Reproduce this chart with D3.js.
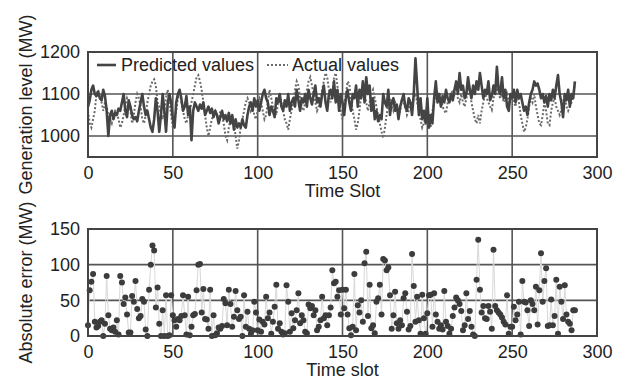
<!DOCTYPE html>
<html>
<head>
<meta charset="utf-8">
<script src="https://cdn.jsdelivr.net/npm/d3@7"></script>
<style>
  body { margin: 0; background: #fff; }
  text { font-family: "Liberation Sans", Arial, sans-serif; fill: #222; }
</style>
</head>
<body>
<script>
// time slots 0..287
var predicted = [
  1070, 1085, 1110, 1120, 1100, 1095, 1105, 1090, 1085, 1110,
  1095, 1060, 1000, 1050, 1060, 1040, 1055, 1050, 1065, 1060,
  1080, 1100, 1060, 1045, 1085, 1070, 1050, 1040, 1045, 1035,
  1060, 1080, 1100, 1070, 1050, 1060, 1040, 1020, 1010, 1040,
  1090, 1060, 1010, 1050, 1100, 1060, 1010, 1080, 1100, 1080,
  1040, 1020, 1080, 1100, 1110, 1090, 1060, 1070, 1095, 1050,
  1070, 990, 1060, 1080, 1070, 1060, 1075, 1065, 1080, 1050,
  1060, 1070, 1055, 1065, 1045, 1060, 1050, 1030, 1045, 1060,
  1040, 1050, 1035, 1055, 1030, 1050, 1015, 1040, 1020, 1030,
  1020, 1040, 1025, 1020, 1050, 1070, 1080, 1060, 1090, 1070,
  1085, 1060, 1080, 1100, 1110, 1090, 1080, 1050, 1070, 1060,
  1045, 1090, 1080, 1100, 1070, 1060, 1085, 1070, 1100, 1060,
  1080, 1090, 1070, 1110, 1085, 1060, 1090, 1080, 1100, 1070,
  1110, 1090, 1075, 1100, 1120, 1080, 1090, 1070, 1100, 1120,
  1080, 1060, 1100, 1110, 1090, 1130, 1080, 1110, 1060, 1100,
  1080, 1050, 1090, 1110, 1080, 1060, 1100, 1090, 1120, 1070,
  1110, 1090, 1130, 1080, 1140, 1100, 1120, 1060, 1090, 1040,
  1060, 1035, 1050, 1040, 1100, 1080, 1070, 1110, 1050, 1080,
  1090, 1060, 1075, 1040, 1070, 1085, 1100, 1070, 1060, 1090,
  1080, 1050, 1100, 1185, 1120, 1050, 1090, 1040, 1060, 1030,
  1090, 1020, 1050, 1030, 1090, 1130, 1080, 1100, 1070, 1095,
  1080, 1110, 1090, 1080, 1100, 1085, 1110, 1130, 1100, 1150,
  1110, 1120, 1090, 1100, 1140, 1110, 1090, 1120, 1100, 1130,
  1110, 1150, 1120, 1090, 1110, 1100, 1130, 1085, 1095, 1120,
  1100, 1165, 1110, 1100, 1140, 1090, 1110, 1070, 1060, 1100,
  1090, 1110, 1080, 1110, 1090, 1100, 1080, 1060, 1070, 1050,
  1080, 1100, 1110, 1130, 1120, 1125, 1110, 1090, 1100, 1080,
  1095, 1070, 1100, 1085, 1110, 1090, 1120, 1145, 1100, 1080,
  1045, 1100, 1085, 1110, 1070, 1100, 1090, 1130
];

var actual = [
  1060, 1030, 1020, 1040, 1060, 1100, 1110, 1090, 1080, 1060,
  1080, 1070, 1050, 1040, 1030, 1050, 1060, 1055, 1040, 1020,
  1030, 1050, 1070, 1090, 1080, 1060, 1030, 1050, 1080, 1100,
  1090, 1070, 1040, 1030, 1050, 1080, 1100, 1120, 1130, 1135,
  1120, 1080, 1070, 1050, 1040, 1060, 1090, 1110, 1080, 1050,
  1020, 1040, 1060, 1090, 1110, 1080, 1060, 1040, 1030, 1050,
  1060, 1080, 1100, 1120, 1140, 1145, 1130, 1110, 1080, 1050,
  1020, 1000, 1020, 1040, 1050, 1060, 1050, 1040, 1060, 1050,
  1030, 1000, 990, 1020, 1040, 1050, 1030, 1000, 970, 990,
  1020, 1040, 1060, 1080, 1090, 1080, 1060, 1070, 1050, 1040,
  1060, 1090, 1080, 1060, 1040, 1050, 1080, 1110, 1090, 1070,
  1060, 1050, 1080, 1100, 1080, 1060, 1040, 1030, 1015, 1040,
  1060, 1080, 1110, 1130, 1120, 1090, 1070, 1060, 1080, 1110,
  1130, 1140, 1120, 1100, 1080, 1060, 1070, 1090, 1110, 1130,
  1150, 1140, 1110, 1080, 1100, 1140, 1150, 1120, 1080, 1060,
  1040, 1070, 1100, 1130, 1125, 1090, 1060, 1040, 1015, 1030,
  1060, 1100, 1120, 1100, 1080, 1060, 1080, 1100, 1110, 1090,
  1070, 1050, 1030, 1010, 995, 1020, 1050, 1080, 1090, 1070,
  1060, 1080, 1070, 1050, 1060, 1090, 1080, 1070, 1050, 1060,
  1080, 1070, 1090, 1100, 1080, 1060, 1040, 1020, 1030, 1050,
  1070, 1040, 1022, 1060, 1080, 1090, 1100, 1080, 1090, 1070,
  1060, 1054, 1080, 1090, 1100, 1110, 1100, 1120, 1090, 1080,
  1100, 1080, 1070, 1090, 1100, 1120, 1080, 1060, 1040, 1030,
  1050, 1030, 1060, 1080, 1100, 1090, 1080, 1070, 1062, 1090,
  1100, 1110, 1100, 1090, 1100, 1080, 1090, 1100, 1080, 1090,
  1100, 1080, 1070, 1100, 1080, 1050, 1030, 1010, 1020, 1040,
  1070, 1090, 1080, 1100, 1070, 1050, 1030, 1026, 1050, 1080,
  1060, 1030, 1026, 1060, 1080, 1090, 1070, 1060, 1050, 1062,
  1080, 1100, 1070, 1060, 1070, 1080, 1100, 1130
];

var absError = [
  15, 64, 76, 87, 20, 12, 14, 20, 22, 0,
  17, 84, 29, 10, 8, 12, 6, 22, 2, 84,
  75, 45, 54, 30, 5, 5, 56, 48, 77, 38,
  25, 28, 52, 48, 9, 0, 65, 100, 127, 120,
  40, 68, 17, 0, 36, 0, 57, 0, 1, 57,
  29, 22, 13, 24, 22, 28, 57, 29, 2, 55,
  1, 13, 29, 31, 64, 100, 101, 33, 66, 24,
  23, 10, 65, 0, 29, 1, 4, 12, 10, 14,
  52, 46, 15, 65, 45, 13, 27, 63, 36, 24,
  27, 0, 57, 13, 34, 10, 3, 8, 48, 33,
  8, 23, 6, 20, 16, 55, 25, 33, 3, 20,
  41, 72, 10, 18, 6, 2, 4, 71, 48, 6,
  32, 11, 22, 36, 60, 18, 29, 22, 6, 4,
  44, 39, 42, 29, 36, 8, 13, 22, 55, 25,
  29, 15, 29, 40, 92, 74, 76, 55, 64, 30,
  65, 39, 65, 30, 11, 1, 13, 87, 8, 43,
  33, 50, 20, 102, 118, 28, 72, 11, 15, 4,
  48, 53, 72, 30, 108, 106, 92, 96, 57, 10,
  29, 62, 18, 10, 22, 15, 53, 60, 34, 9,
  14, 115, 70, 20, 55, 22, 3, 58, 25, 3,
  32, 57, 58, 13, 60, 30, 20, 10, 15, 9,
  63, 20, 14, 3, 10, 28, 40, 54, 50, 45,
  35, 8, 15, 60, 24, 35, 13, 2, 0, 79,
  135, 65, 33, 42, 25, 24, 42, 34, 10, 121,
  42, 36, 33, 30, 26, 20, 16, 57, 3, 13,
  13, 41, 22, 30, 48, 2, 77, 48, 47, 36,
  14, 50, 45, 36, 69, 16, 64, 116, 48, 77,
  95, 14, 15, 51, 15, 28, 79, 3, 69, 48,
  24, 71, 30, 20, 17, 8, 36, 36
];

var xTicks = [0, 50, 100, 150, 200, 250, 300];
var genTicks = [1000, 1100, 1200];
var errTicks = [0, 50, 100, 150];
var legendLabels = ["Predicted values", "Actual values"];

var W = 622, H = 381;
var left = 88, right = 597;

var svg = d3.select("body").append("svg")
    .attr("width", W)
    .attr("height", H);

var x = d3.scaleLinear().domain([0, 300]).range([left, right]);

function drawPanel(top, bottom, y, yTicks, yTitle, xTitle, titleY) {
    var g = svg.append("g");

    // grid
    g.selectAll("line.vgrid")
        .data(xTicks.slice(1, -1))
        .enter().append("line")
        .attr("x1", function(d) { return x(d); })
        .attr("x2", function(d) { return x(d); })
        .attr("y1", top).attr("y2", bottom)
        .attr("stroke", "#555").attr("stroke-width", 1.6);
    g.selectAll("line.hgrid")
        .data(yTicks.filter(function(d) { return y(d) > top + 2 && y(d) < bottom - 2; }))
        .enter().append("line")
        .attr("x1", left).attr("x2", right)
        .attr("y1", function(d) { return y(d); })
        .attr("y2", function(d) { return y(d); })
        .attr("stroke", "#555").attr("stroke-width", 1.6);

    var xAxis = svg.append("g")
        .attr("transform", "translate(0," + bottom + ")")
        .call(d3.axisBottom(x).tickValues(xTicks).tickFormat(d3.format("d")).tickSize(0).tickPadding(9));
    var yAxis = svg.append("g")
        .attr("transform", "translate(" + left + ",0)")
        .call(d3.axisLeft(y).tickValues(yTicks).tickFormat(d3.format("d")).tickSize(0).tickPadding(8));
    [xAxis, yAxis].forEach(function(a) {
        a.select(".domain").remove();
        a.selectAll("text")
            .style("font-size", "18px")
            .style("font-family", "'Liberation Sans', Arial, sans-serif")
            .attr("fill", "#222");
    });

    svg.append("text")
        .attr("x", (left + right) / 2)
        .attr("y", titleY)
        .attr("text-anchor", "middle")
        .style("font-size", "18px")
        .text(xTitle);

    svg.append("text")
        .attr("transform", "translate(32," + ((top + bottom) / 2) + ") rotate(-90)")
        .attr("text-anchor", "middle")
        .style("font-size", "18px")
        .text(yTitle);

    return g;
}

// ---- top panel ----
var top1 = 52, bot1 = 157;
var y1 = d3.scaleLinear().domain([950, 1200]).range([bot1, top1]);
var g1 = drawPanel(top1, bot1, y1, genTicks, "Generation level (MW)", "Time Slot", 197);

var line1 = d3.line()
    .x(function(d, i) { return x(i); })
    .y(function(d) { return y1(d); });

g1.append("path")
    .datum(actual)
    .attr("d", line1)
    .attr("fill", "none")
    .attr("stroke", "#6a6a6a")
    .attr("stroke-width", 2)
    .attr("stroke-dasharray", "2,2");

g1.append("path")
    .datum(predicted)
    .attr("d", line1)
    .attr("fill", "none")
    .attr("stroke", "#444")
    .attr("stroke-width", 2.6)
    .attr("stroke-linejoin", "round");

// legend
var leg = svg.append("g");
leg.append("line")
    .attr("x1", 97).attr("x2", 116).attr("y1", 65).attr("y2", 65)
    .attr("stroke", "#444").attr("stroke-width", 2.6);
leg.append("text").attr("x", 121).attr("y", 71)
    .style("font-size", "18px").text(legendLabels[0]);
leg.append("line")
    .attr("x1", 267).attr("x2", 288).attr("y1", 65).attr("y2", 65)
    .attr("stroke", "#6a6a6a").attr("stroke-width", 2).attr("stroke-dasharray", "2,2");
leg.append("text").attr("x", 292).attr("y", 71)
    .style("font-size", "18px").text(legendLabels[1]);

svg.append("rect")
    .attr("x", left).attr("y", top1)
    .attr("width", right - left).attr("height", bot1 - top1)
    .attr("fill", "none").attr("stroke", "#444").attr("stroke-width", 2);

// ---- bottom panel ----
var top2 = 229, bot2 = 336;
var y2 = d3.scaleLinear().domain([0, 150]).range([bot2, top2]);
var g2 = drawPanel(top2, bot2, y2, errTicks, "Absolute error (MW)", "Time slot", 376);

g2.append("path")
    .datum(absError)
    .attr("d", d3.line()
        .x(function(d, i) { return x(i); })
        .y(function(d) { return y2(d); }))
    .attr("fill", "none")
    .attr("stroke", "#d8d8d8")
    .attr("stroke-width", 1);

g2.selectAll("circle.pt")
    .data(absError)
    .enter().append("circle")
    .classed("pt", true)
    .attr("cx", function(d, i) { return x(i); })
    .attr("cy", function(d) { return y2(d); })
    .attr("r", 3)
    .attr("fill", "#3c3c3c");

svg.append("rect")
    .attr("x", left).attr("y", top2)
    .attr("width", right - left).attr("height", bot2 - top2)
    .attr("fill", "none").attr("stroke", "#444").attr("stroke-width", 2);
</script>
</body>
</html>
